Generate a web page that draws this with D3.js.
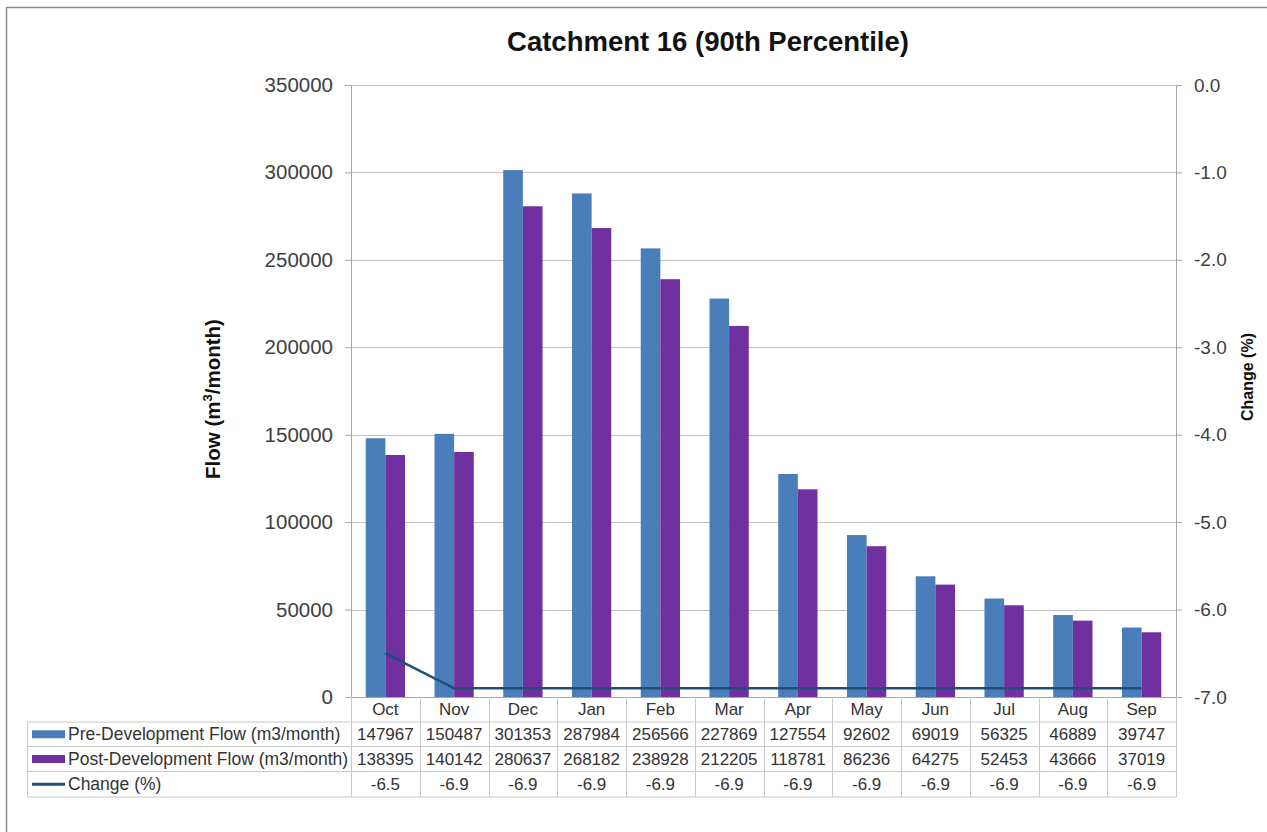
<!DOCTYPE html>
<html>
<head>
<meta charset="utf-8">
<script src="https://cdn.jsdelivr.net/npm/d3@7/dist/d3.min.js"></script>
<style>
  html, body { margin: 0; padding: 0; background: #ffffff; }
  svg { display: block; font-family: "Liberation Sans", Arial, sans-serif; }
</style>
</head>
<body>
<svg id="chart" width="1267" height="832"></svg>
<script>
// Monthly flows for catchment 16, 90th percentile
const months = ["Oct", "Nov", "Dec", "Jan", "Feb", "Mar", "Apr", "May", "Jun", "Jul", "Aug", "Sep"];
const preFlow = [147967, 150487, 301353, 287984, 256566, 227869, 127554, 92602, 69019, 56325, 46889, 39747];
const postFlow = [138395, 140142, 280637, 268182, 238928, 212205, 118781, 86236, 64275, 52453, 43666, 37019];
const changePct = [-6.5, -6.9, -6.9, -6.9, -6.9, -6.9, -6.9, -6.9, -6.9, -6.9, -6.9, -6.9];
const flowTicks = [0, 50000, 100000, 150000, 200000, 250000, 300000, 350000];
const changeTicks = [0, -1, -2, -3, -4, -5, -6, -7];
const seriesNames = ["Pre-Development Flow (m3/month)", "Post-Development Flow (m3/month)", "Change (%)"];

const colPre = "#4a7ebb", colPost = "#7030a0", colLine = "#1f4e79";
const gridCol = "#c3c3c3", axisCol = "#a6a6a6", textCol = "#404040";

const svg = d3.select("#chart");
const plotLeft = 351, plotRight = 1176, plotTop = 85, plotBottom = 697;

// outer chart frame
svg.append("rect").attr("x", 6.5).attr("y", 7.5).attr("width", 1300).attr("height", 900)
  .attr("fill", "#fff").attr("stroke", "#8c8c8c").attr("stroke-width", 1.5);

const x = d3.scaleBand().domain(months).range([plotLeft, plotRight]).paddingInner(0).paddingOuter(0);
const yL = d3.scaleLinear().domain([0, 350000]).range([plotBottom, plotTop]);
const yR = d3.scaleLinear().domain([-7, 0]).range([plotBottom, plotTop]);
const fmtPct = d => d3.format(".1f")(d).replace("\u2212", "-");

// horizontal gridlines
svg.append("g").selectAll("line").data(flowTicks.filter(d => d > 0)).join("line")
  .attr("x1", plotLeft).attr("x2", plotRight)
  .attr("y1", d => Math.round(yL(d)) + 0.5).attr("y2", d => Math.round(yL(d)) + 0.5)
  .attr("stroke", gridCol).attr("stroke-width", 1);

// left axis
const axL = svg.append("g").attr("transform", `translate(${plotLeft},0)`)
  .call(d3.axisLeft(yL).tickValues(flowTicks).tickFormat(d3.format("d")).tickSize(6).tickPadding(12));
axL.select(".domain").attr("stroke", axisCol);
axL.selectAll(".tick line").attr("stroke", axisCol);
axL.selectAll(".tick text").attr("font-size", 20.5).attr("fill", textCol)
  .attr("font-family", "Liberation Sans, Arial, sans-serif");

// right axis
const axR = svg.append("g").attr("transform", `translate(${plotRight},0)`)
  .call(d3.axisRight(yR).tickValues(changeTicks).tickFormat(fmtPct).tickSize(6).tickPadding(12));
axR.select(".domain").attr("stroke", axisCol);
axR.selectAll(".tick line").attr("stroke", axisCol);
axR.selectAll(".tick text").attr("font-size", 19).attr("fill", textCol)
  .attr("font-family", "Liberation Sans, Arial, sans-serif");

// bars
const bw = x.bandwidth() / 3.5;
const bars = svg.append("g");
bars.selectAll("rect.pre").data(months).join("rect").attr("class", "pre")
  .attr("x", d => x(d) + x.bandwidth() / 2 - bw).attr("width", bw)
  .attr("y", (d, i) => yL(preFlow[i])).attr("height", (d, i) => yL(0) - yL(preFlow[i]))
  .attr("fill", colPre);
bars.selectAll("rect.post").data(months).join("rect").attr("class", "post")
  .attr("x", d => x(d) + x.bandwidth() / 2).attr("width", bw)
  .attr("y", (d, i) => yL(postFlow[i])).attr("height", (d, i) => yL(0) - yL(postFlow[i]))
  .attr("fill", colPost);

// change line on the secondary axis
const line = d3.line().x((d, i) => x(months[i]) + x.bandwidth() / 2).y(d => yR(d));
svg.append("path").datum(changePct).attr("d", line)
  .attr("fill", "none").attr("stroke", colLine).attr("stroke-width", 2.5);

// bottom axis line
svg.append("line").attr("x1", plotLeft - 6).attr("x2", plotRight).attr("y1", plotBottom + 0.5).attr("y2", plotBottom + 0.5)
  .attr("stroke", axisCol);

// data table
const tblLeft = 27, tblBottom = 797;
const rowY = [697, 722, 746.5, 771.5, 797];
const tbl = svg.append("g");
const tblCol = "#c8c8c8";
// horizontal rules
[722, 746.5, 771.5, 797].forEach(yy => {
  tbl.append("line").attr("x1", tblLeft).attr("x2", plotRight).attr("y1", yy).attr("y2", yy)
    .attr("stroke", tblCol);
});
// vertical rules
tbl.append("line").attr("x1", tblLeft + 0.5).attr("x2", tblLeft + 0.5).attr("y1", 722).attr("y2", tblBottom).attr("stroke", tblCol);
tbl.selectAll("line.v").data(months.slice(1)).join("line").attr("class", "v")
  .attr("x1", d => Math.round(x(d)) + 0.5).attr("x2", d => Math.round(x(d)) + 0.5)
  .attr("y1", plotBottom).attr("y2", tblBottom).attr("stroke", tblCol);
tbl.append("line").attr("x1", plotLeft + 0.5).attr("x2", plotLeft + 0.5).attr("y1", plotBottom).attr("y2", tblBottom).attr("stroke", tblCol);
tbl.append("line").attr("x1", plotRight + 0.5).attr("x2", plotRight + 0.5).attr("y1", plotBottom).attr("y2", tblBottom).attr("stroke", tblCol);

const fsNum = 17, fsLab = 17.5;
// category labels
tbl.selectAll("text.cat").data(months).join("text").attr("class", "cat")
  .attr("x", d => x(d) + x.bandwidth() / 2).attr("y", (rowY[0] + rowY[1]) / 2)
  .attr("text-anchor", "middle").attr("dominant-baseline", "central")
  .attr("font-size", fsNum).attr("fill", "#333").text(d => d);

const rows = [preFlow, postFlow, changePct];
rows.forEach((vals, r) => {
  const cy = (rowY[r + 1] + rowY[r + 2]) / 2;
  tbl.selectAll(null).data(vals).join("text")
    .attr("x", (d, i) => x(months[i]) + x.bandwidth() / 2).attr("y", cy)
    .attr("text-anchor", "middle").attr("dominant-baseline", "central")
    .attr("font-size", fsNum).attr("fill", "#333")
    .text(d => r === 2 ? fmtPct(d) : d);
  // legend key + series name
  if (r < 2) {
    tbl.append("rect").attr("x", 32).attr("y", cy - 4).attr("width", 33).attr("height", 8)
      .attr("fill", r === 0 ? colPre : colPost);
  } else {
    tbl.append("line").attr("x1", 32).attr("x2", 65).attr("y1", cy).attr("y2", cy)
      .attr("stroke", colLine).attr("stroke-width", 3);
  }
  tbl.append("text").attr("x", 68).attr("y", cy).attr("dominant-baseline", "central")
    .attr("font-size", fsLab).attr("fill", "#333").text(seriesNames[r]);
});

// title
svg.append("text").attr("x", 708).attr("y", 51).attr("text-anchor", "middle")
  .attr("font-size", 27.5).attr("font-weight", "bold").attr("fill", "#111")
  .text("Catchment 16 (90th Percentile)");

// axis titles
const yt = svg.append("text").attr("transform", "translate(220,399) rotate(-90)")
  .attr("text-anchor", "middle").attr("font-size", 20.5).attr("font-weight", "bold").attr("fill", "#111");
yt.append("tspan").text("Flow (m");
yt.append("tspan").attr("font-size", 13).attr("dy", -8).text("3");
yt.append("tspan").attr("dy", 8).text("/month)");

svg.append("text").attr("transform", "translate(1253,377) rotate(-90)")
  .attr("text-anchor", "middle").attr("font-size", 16).attr("font-weight", "bold").attr("fill", "#111")
  .text("Change (%)");
</script>
</body>
</html>
